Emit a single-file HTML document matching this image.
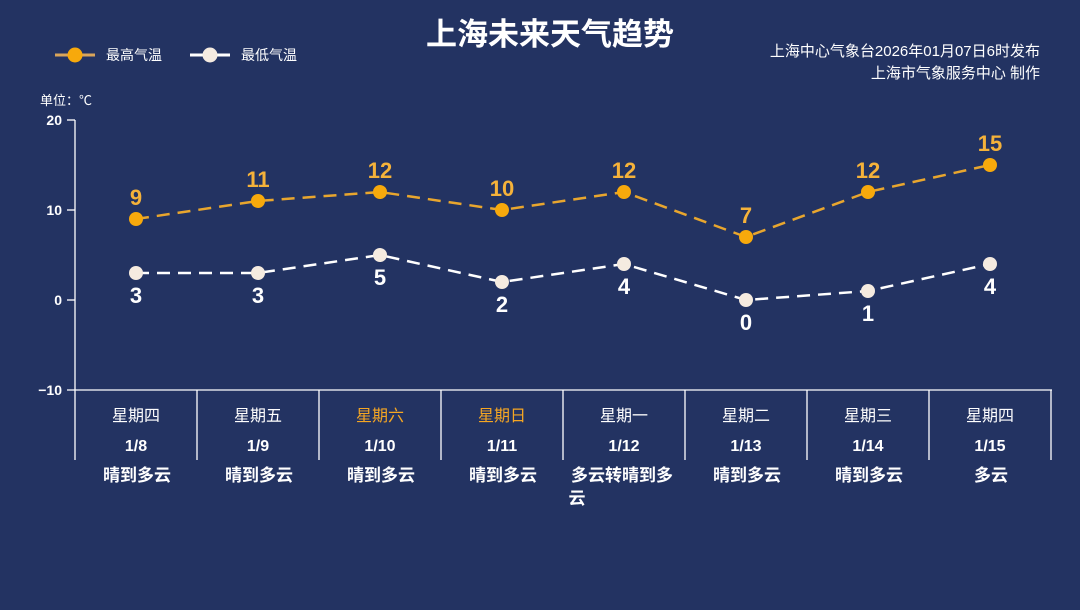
<!DOCTYPE html>
<html><head><meta charset="utf-8"><style>
html,body{margin:0;padding:0;background:#233362;}
svg{display:block;font-family:"Liberation Sans","Noto Sans CJK SC",sans-serif;}
</style></head><body>
<svg width="1080" height="610" viewBox="0 0 1080 610" xmlns="http://www.w3.org/2000/svg">
<rect width="1080" height="610" fill="#233362"/>
<text x="550" y="45" text-anchor="middle" font-size="31" font-weight="bold" fill="#fff">上海未来天气趋势</text>
<text x="1040" y="56" text-anchor="end" font-size="15" fill="#fff">上海中心气象台2026年01月07日6时发布</text>
<text x="1040" y="78" text-anchor="end" font-size="15" fill="#fff">上海市气象服务中心 制作</text>
<line x1="55" y1="55" x2="95" y2="55" stroke="#d9a55a" stroke-width="3"/>
<circle cx="75" cy="55" r="7.5" fill="#f7a90c"/>
<text x="106" y="60" font-size="14" fill="#fff">最高气温</text>
<line x1="190" y1="55" x2="230" y2="55" stroke="#fff" stroke-width="3"/>
<circle cx="210" cy="55" r="7.5" fill="#f5ebe0"/>
<text x="241" y="60" font-size="14" fill="#fff">最低气温</text>
<text x="40" y="105" font-size="13" fill="#fff">单位：℃</text>
<g stroke="#fff" stroke-width="1.3" fill="none">
<line x1="75" y1="120" x2="75" y2="390"/>
<line x1="67" y1="120" x2="75" y2="120"/>
<line x1="67" y1="210" x2="75" y2="210"/>
<line x1="67" y1="300" x2="75" y2="300"/>
<line x1="67" y1="390" x2="1052" y2="390"/>
<line x1="75" y1="390" x2="75" y2="460"/>
<line x1="197" y1="390" x2="197" y2="460"/>
<line x1="319" y1="390" x2="319" y2="460"/>
<line x1="441" y1="390" x2="441" y2="460"/>
<line x1="563" y1="390" x2="563" y2="460"/>
<line x1="685" y1="390" x2="685" y2="460"/>
<line x1="807" y1="390" x2="807" y2="460"/>
<line x1="929" y1="390" x2="929" y2="460"/>
<line x1="1051" y1="390" x2="1051" y2="460"/>
</g>
<g font-size="14" font-weight="bold" fill="#fff" text-anchor="end">
<text x="62" y="125">20</text><text x="62" y="215">10</text><text x="62" y="305">0</text><text x="62" y="395">−10</text>
</g>
<polyline points="136,219 258,201 380,192 502,210 624,192 746,237 868,192 990,165" fill="none" stroke="#e8a62e" stroke-width="2.5" stroke-dasharray="13,8"/>
<polyline points="136,273 258,273 380,255 502,282 624,264 746,300 868,291 990,264" fill="none" stroke="#fff" stroke-width="2.5" stroke-dasharray="13,8"/>
<g fill="#f7a90c">
<circle cx="136" cy="219" r="7"/><circle cx="258" cy="201" r="7"/><circle cx="380" cy="192" r="7"/><circle cx="502" cy="210" r="7"/><circle cx="624" cy="192" r="7"/><circle cx="746" cy="237" r="7"/><circle cx="868" cy="192" r="7"/><circle cx="990" cy="165" r="7"/>
</g>
<g fill="#f5ebe0">
<circle cx="136" cy="273" r="7"/><circle cx="258" cy="273" r="7"/><circle cx="380" cy="255" r="7"/><circle cx="502" cy="282" r="7"/><circle cx="624" cy="264" r="7"/><circle cx="746" cy="300" r="7"/><circle cx="868" cy="291" r="7"/><circle cx="990" cy="264" r="7"/>
</g>
<g font-size="22" font-weight="bold" fill="#f5b23a" text-anchor="middle">
<text x="136" y="205">9</text><text x="258" y="187">11</text><text x="380" y="178">12</text><text x="502" y="196">10</text><text x="624" y="178">12</text><text x="746" y="223">7</text><text x="868" y="178">12</text><text x="990" y="151">15</text>
</g>
<g font-size="22" font-weight="bold" fill="#fff" text-anchor="middle">
<text x="136" y="303">3</text><text x="258" y="303">3</text><text x="380" y="285">5</text><text x="502" y="312">2</text><text x="624" y="294">4</text><text x="746" y="330">0</text><text x="868" y="321">1</text><text x="990" y="294">4</text>
</g>
<g font-size="16" fill="#fff" text-anchor="middle">
<text x="136" y="421">星期四</text><text x="258" y="421">星期五</text><text x="380" y="421" fill="#f5a623">星期六</text><text x="502" y="421" fill="#f5a623">星期日</text><text x="624" y="421">星期一</text><text x="746" y="421">星期二</text><text x="868" y="421">星期三</text><text x="990" y="421">星期四</text>
</g>
<g font-size="16" font-weight="bold" fill="#fff" text-anchor="middle">
<text x="136" y="451">1/8</text><text x="258" y="451">1/9</text><text x="380" y="451">1/10</text><text x="502" y="451">1/11</text><text x="624" y="451">1/12</text><text x="746" y="451">1/13</text><text x="868" y="451">1/14</text><text x="990" y="451">1/15</text>
</g>
<g font-size="17" font-weight="bold" fill="#fff" text-anchor="middle">
<text x="137" y="481">晴到多云</text><text x="259" y="481">晴到多云</text><text x="381" y="481">晴到多云</text><text x="503" y="481">晴到多云</text>
<text x="622" y="481">多云转晴到多</text><text x="577" y="504">云</text>
<text x="747" y="481">晴到多云</text><text x="869" y="481">晴到多云</text><text x="991" y="481">多云</text>
</g>
</svg>
</body></html>
